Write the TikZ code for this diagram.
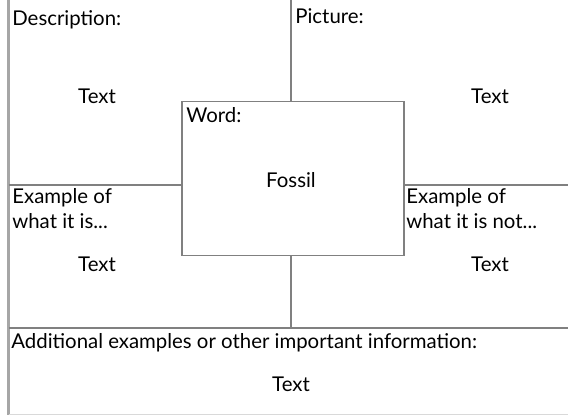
\documentclass[tikz,border=0pt]{standalone}
\usepackage{fontspec}
\setmainfont{Lato}

\begin{document}
\begin{tikzpicture}[x=0.02cm, y=-0.02cm, font=\fontsize{11.6}{14}\selectfont]
    \useasboundingbox (0,0) rectangle (568,416);

    % Draw page frame (left edge and bottom edge)
    \draw[line width=1.4pt, gray!70] (8.5,0) -- (8.5,415);
    \draw[line width=0.8pt, gray!30] (8.5,414.5) -- (568,414.5);

    % Dividing lines between the four quarters
    \draw[line width=0.8pt, gray] (291,0) -- (291,101.5);
    \draw[line width=0.8pt, gray] (291,255.5) -- (291,328);
    \draw[line width=0.8pt, gray] (8.5,185) -- (182,185);
    \draw[line width=0.8pt, gray] (404,185) -- (568,185);
    \draw[line width=0.8pt, gray] (8.5,328) -- (568,328);

    % Word box in the middle
    \draw[line width=0.8pt, gray, fill=white] (182,101.5) rectangle (404,255.5);

    % Headings of the quarters
    \node (desc) at (12,25) [anchor=base west, inner sep=0] {Description:};
    \node (pict) at (295,23) [anchor=base west, inner sep=0] {Picture:};
    \node (word) at (186,122) [anchor=base west, inner sep=0] {Word:};
    \node (isa) at (12,203) [anchor=base west, inner sep=0] {Example of};
    \node (isb) at (12,228) [anchor=base west, inner sep=0] {what it is...};
    \node (nota) at (406,203) [anchor=base west, inner sep=0] {Example of};
    \node (notb) at (406,228) [anchor=base west, inner sep=0] {what it is not...};
    \node (more) at (11,348) [anchor=base west, inner sep=0] {Additional examples or other important information:};

    % Entries
    \node (desctext) at (97,103) [anchor=base, inner sep=0] {Text};
    \node (picttext) at (490,103) [anchor=base, inner sep=0] {Text};
    \node (wordtext) at (291,187) [anchor=base, inner sep=0] {Fossil};
    \node (istext) at (97,271) [anchor=base, inner sep=0] {Text};
    \node (nottext) at (490,271) [anchor=base, inner sep=0] {Text};
    \node (moretext) at (291,391) [anchor=base, inner sep=0] {Text};
\end{tikzpicture}
\end{document}
